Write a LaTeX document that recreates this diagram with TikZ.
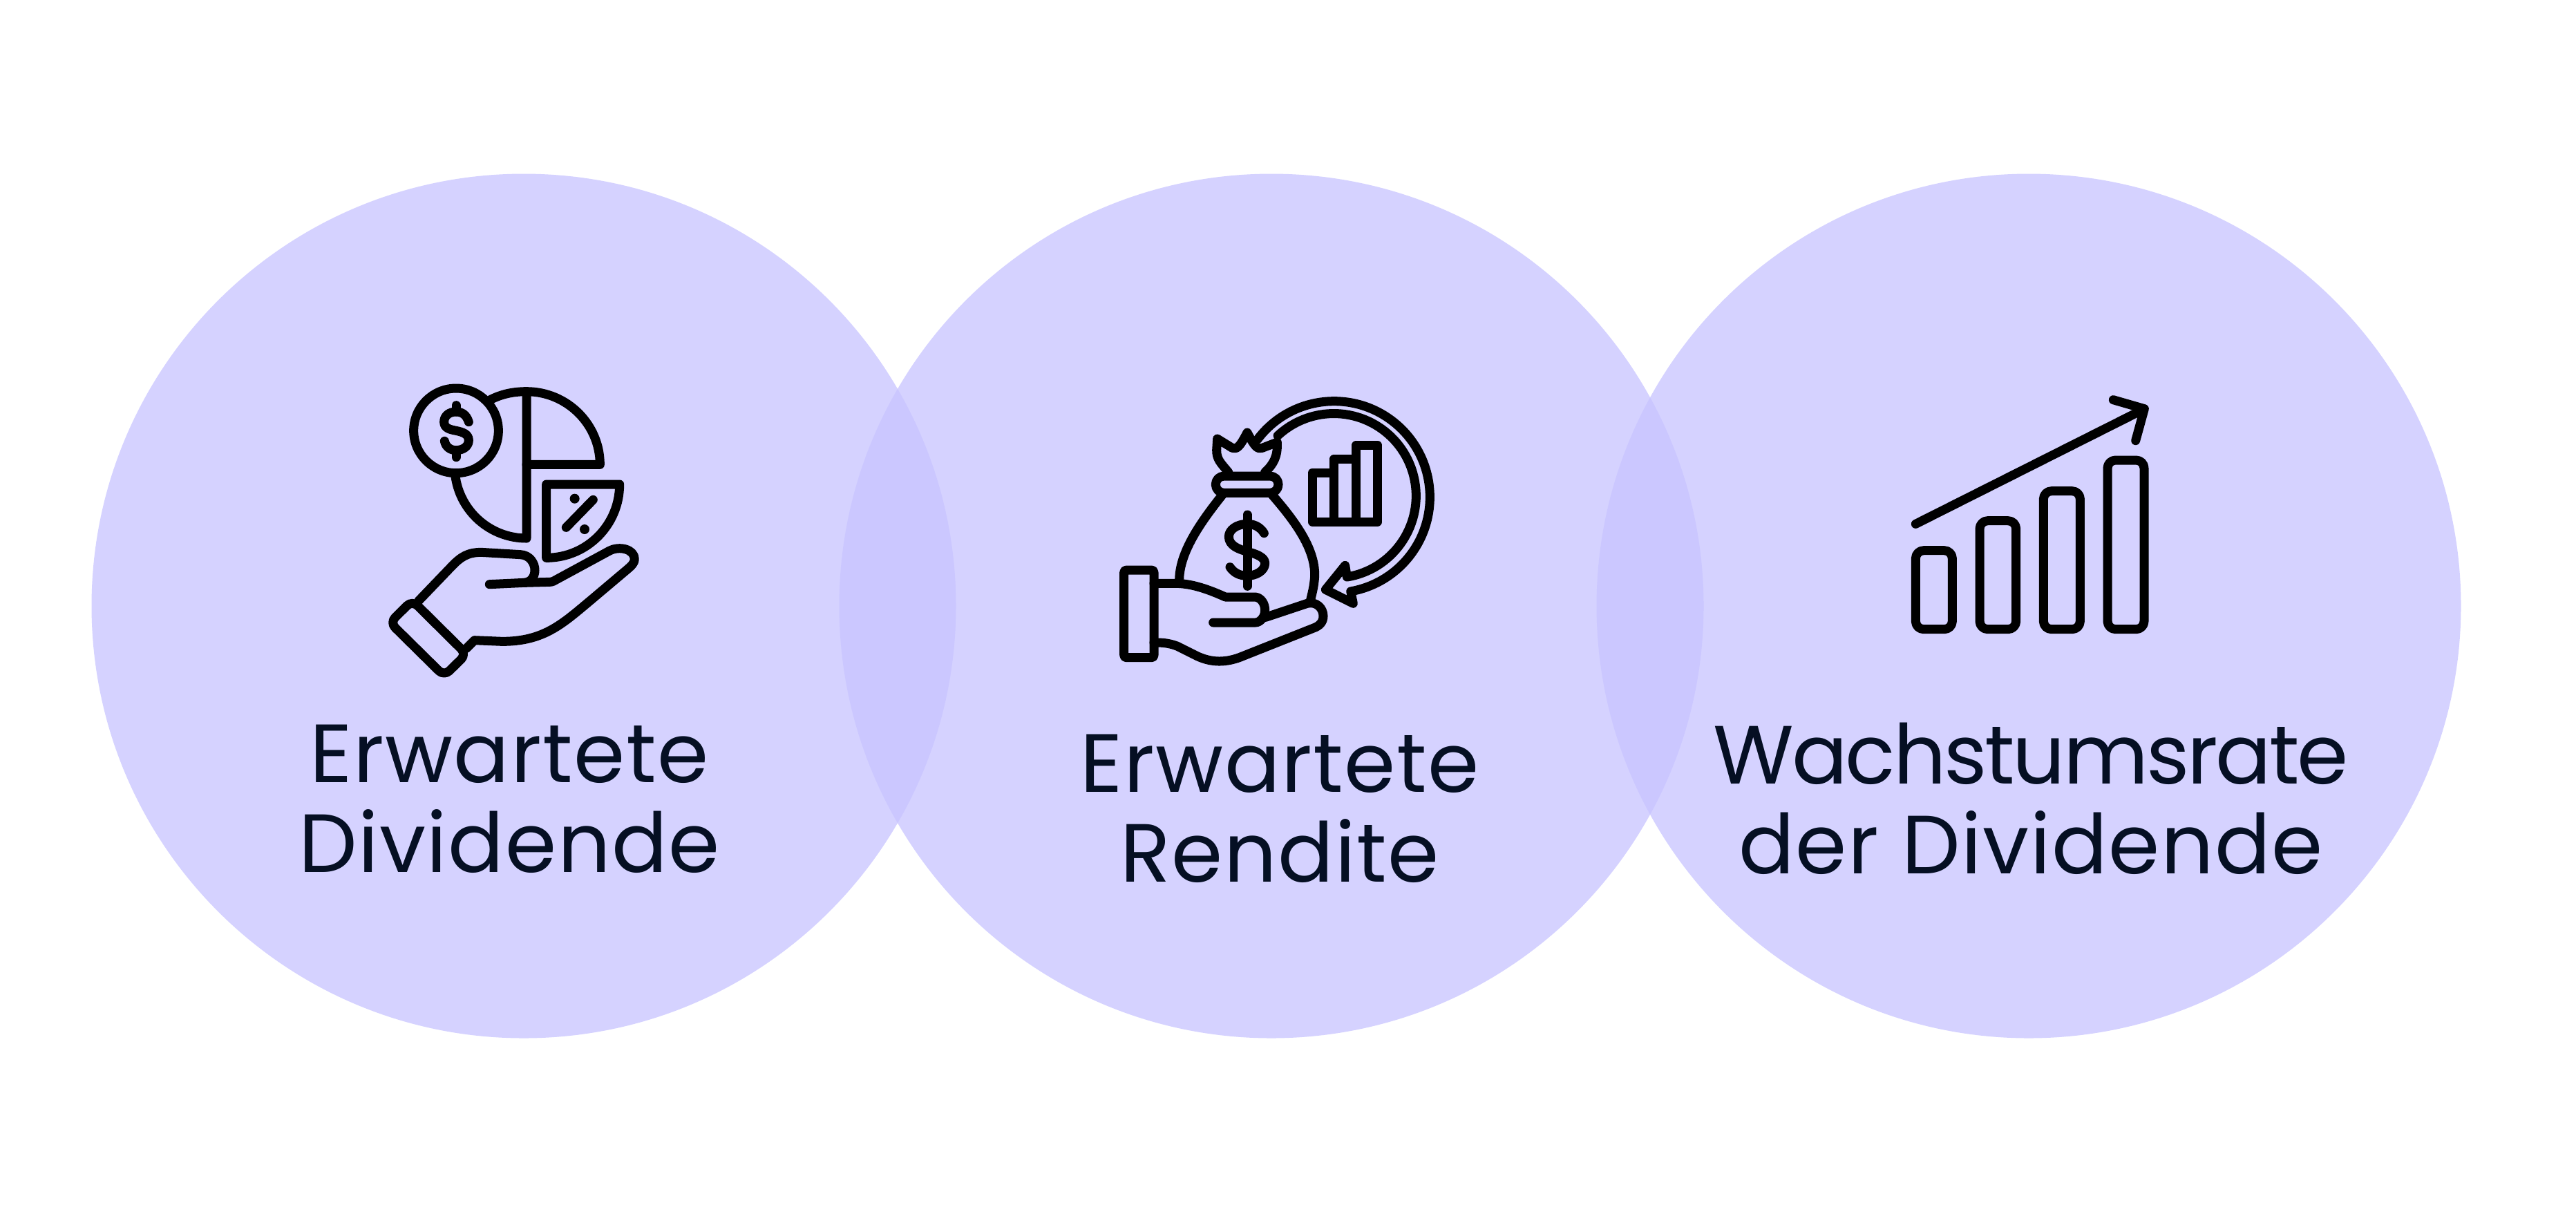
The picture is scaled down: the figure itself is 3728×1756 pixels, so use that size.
\documentclass[tikz,border=0pt]{standalone}
\usepackage{xcolor}
\usepackage{fontspec}
\setmainfont{Poppins}[LetterSpace=1.3]
\usepackage{tikz}
\usetikzlibrary{calc, positioning}
\definecolor{circlefill}{RGB}{200, 196, 255}
\definecolor{labelink}{RGB}{5, 15, 35}

\begin{document}
\begin{tikzpicture}[x=0.01cm, y=-0.01cm,
	bubble/.style={fill=circlefill, fill opacity=0.76},
	iconline/.style={line width=3.7pt, line cap=round, line join=round, black},
	iconzoom/.style={x=0.01cm/3, y=-0.01cm/3},
	caption/.style={align=center, text=labelink, font=\fontsize{34}{37}\selectfont, anchor=center}]
	\useasboundingbox (0,0) rectangle (3728,1756);
	\fill[white] (0,0) rectangle (3728,1756);
	
	\fill[bubble] (758,877) circle [radius=625.5];
	\fill[bubble] (1840,877) circle [radius=625.5];
	\fill[bubble] (2936,877) circle [radius=625.5];
	
	%% dividend icon
	\begin{scope}[shift={(520,520)}, iconzoom]
		\draw[iconline] (420,310) circle [radius=184];
		\draw[iconline] (420,200) -- (420,228) (420,395) -- (420,425);
		\draw[iconline] (475,272) .. controls (465,240) and (445,228) .. (420,228) .. controls (390,228) and (368,245) .. (368,272) .. controls (368,300) and (395,305) .. (420,310) .. controls (450,316) and (475,325) .. (475,352) .. controls (475,378) and (450,395) .. (420,395) .. controls (395,395) and (375,380) .. (370,355);
		\draw[iconline] (726,140) -- (726,777) arc [start angle=90, end angle=173, radius=312];
		\draw[iconline] (726,140) .. controls (901,140) and (1045,282) .. (1045,457) -- (726,457);
		\draw[iconline] (726,140) .. controls (670,140) and (620,150) .. (570,175);
		\draw[iconline] (812,543) -- (1130,543) .. controls (1130,719) and (988,862) .. (812,862) -- cycle;
		\draw[iconline] (1015,610) -- (898,730);
		\fill (935,605) circle [radius=21];
		\fill (978,738) circle [radius=21];
		\draw[iconline] (258,1048) -- (400,900) .. controls (440,858) and (470,838) .. (530,838) -- (700,848) .. controls (740,850) and (762,885) .. (762,915) .. controls (762,945) and (745,968) .. (715,970) -- (565,977);
		\draw[iconline] (715,970) -- (825,967) .. controls (840,967) and (845,962) .. (860,954) -- (1085,832) .. controls (1130,808) and (1195,825) .. (1195,868) .. controls (1195,885) and (1180,898) .. (1160,915) -- (1000,1050) .. controls (880,1150) and (800,1225) .. (620,1225) -- (500,1220) -- (465,1255);
		\draw[iconline, rounded corners=3pt] (230,1047) -- (133,1143) -- (368,1375) -- (465,1280) -- cycle;
	\end{scope}
	
	%% bag icon
	\begin{scope}[shift={(1590,540)}, iconzoom]
		\draw[iconline, rounded corners=1pt] (110,855) rectangle (240,1235);
		\draw[iconline] (240,913) -- (340,913) .. controls (420,915) and (500,950) .. (550,972) -- (680,972) .. controls (705,975) and (722,1000) .. (722,1030) .. controls (722,1060) and (700,1083) .. (680,1083) -- (497,1083);
		\draw[iconline] (725,1060) -- (905,1000) .. controls (945,990) and (975,1020) .. (975,1055) .. controls (975,1080) and (960,1098) .. (930,1108) -- (610,1235) .. controls (540,1260) and (480,1255) .. (420,1225) -- (340,1185) .. controls (300,1170) and (270,1170) .. (240,1170);
		\draw[iconline] (350,900) .. controls (350,780) and (440,650) .. (540,525);
		\draw[iconline] (750,525) .. controls (850,640) and (940,760) .. (938,880) .. controls (935,930) and (925,960) .. (920,985);
		\draw[iconline, rounded corners=3.4pt] (508,447) rectangle (780,520);
		\draw[iconline] (563,430) .. controls (530,390) and (512,375) .. (512,335) -- (515,285) -- (580,325) .. controls (600,330) and (610,325) .. (645,258) .. controls (680,325) and (690,330) .. (710,325) -- (775,300) .. controls (778,360) and (760,395) .. (722,430);
		\draw[iconline] (645,615) -- (645,925);
		\draw[iconline] (718,695) .. controls (700,665) and (670,655) .. (645,655) .. controls (600,655) and (565,680) .. (565,710) .. controls (565,750) and (610,765) .. (645,775) .. controls (685,785) and (722,800) .. (722,825) .. controls (722,860) and (680,880) .. (645,880) .. controls (610,880) and (585,865) .. (570,842);
		\coordinate (turn) at (1022,538);
		\draw[iconline] ($(turn)+(-143:416)$) arc [start angle=-143, end angle=80, radius=416] -- (1105,1000) -- (985,940) -- (1070,835) -- (1078,885) arc [start angle=80.8, end angle=-133, radius=357];
		\draw[iconline] (928,645) rectangle (1022,432);
		\draw[iconline] (1022,645) rectangle (1117,372);
		\draw[iconline] (1117,645) rectangle (1211,313);
	\end{scope}
	
	%% growth icon
	\begin{scope}[shift={(2740,540)}, iconzoom]
		\draw[iconline, rounded corners=3.3pt] (97,770) rectangle (256,1112);
		\draw[iconline, rounded corners=3.3pt] (375,641) rectangle (533,1112);
		\draw[iconline, rounded corners=3.3pt] (652,512) rectangle (811,1112);
		\draw[iconline, rounded corners=3.3pt] (930,378) rectangle (1089,1112);
		\draw[iconline] (97,655) -- (1075,163);
		\draw[iconline] (955,116) -- (1090,155) -- (1052,293);
	\end{scope}
	
	\node[caption] (dividendlabel) at (737,1156) {Erwartete\\Dividende};
	\node[caption] (returnlabel) at (1852,1170) {Erwartete\\Rendite};
	\node[caption] (growthlabel) at (2939,1156) {{\addfontfeature{LetterSpace=-2.7}Wachstumsrate}\\der Dividende};
\end{tikzpicture}
\end{document}
